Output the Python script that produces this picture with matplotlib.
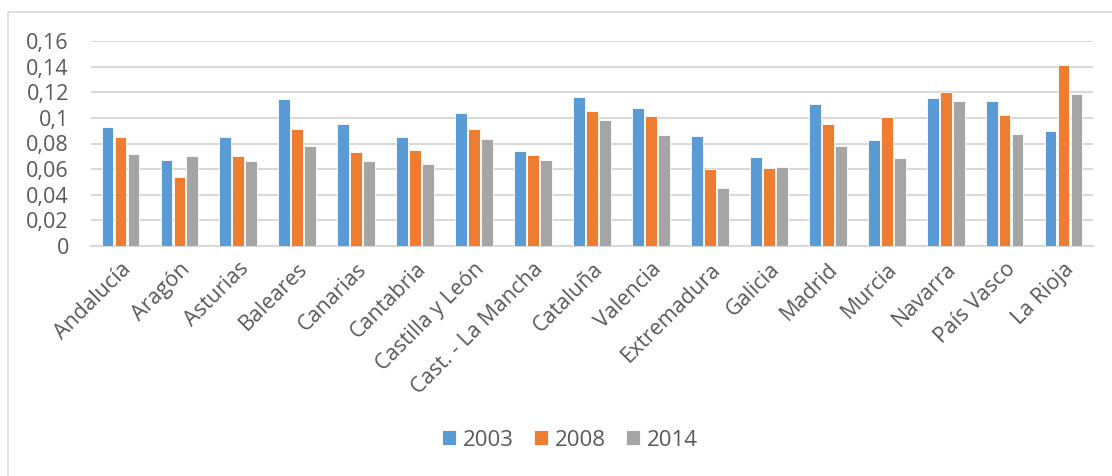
import numpy as np
import matplotlib
matplotlib.use("Agg")
import matplotlib.pyplot as plt
from matplotlib.patches import Rectangle

# data
regions = ["Andalucía", "Aragón", "Asturias", "Baleares", "Canarias", "Cantabria",
           "Castilla y León", "Cast. - La Mancha", "Cataluña", "Valencia", "Extremadura",
           "Galicia", "Madrid", "Murcia", "Navarra", "País Vasco", "La Rioja"]
v2003 = [0.093, 0.067, 0.085, 0.115, 0.095, 0.085, 0.1035, 0.074, 0.116, 0.1075, 0.086,
         0.0697, 0.111, 0.083, 0.1155, 0.113, 0.090]
v2008 = [0.085, 0.054, 0.070, 0.091, 0.073, 0.075, 0.091, 0.071, 0.105, 0.1015, 0.060,
         0.061, 0.095, 0.1007, 0.1205, 0.102, 0.1415]
v2014 = [0.072, 0.070, 0.066, 0.078, 0.066, 0.064, 0.0835, 0.0675, 0.0985, 0.087, 0.045,
         0.0617, 0.078, 0.0687, 0.1135, 0.0875, 0.119]
years = ["2003", "2008", "2014"]
colors = ["#5b9bd5", "#ed7d31", "#a5a5a5"]

plt.rcParams['font.family'] = ['Open Sans', 'DejaVu Sans']
txt = "#595959"
fs = 15.5

fig = plt.figure(figsize=(11.12, 4.76), dpi=100)
ax = fig.add_axes([91/1112, 1-246/476, (1093-91)/1112, 205/476])

# frame around the chart
fig.patches.append(Rectangle((8/1112, -0.1), 1.2, 1-12/476+0.1, transform=fig.transFigure,
                             fill=False, edgecolor="#d9d9d9", linewidth=1.2))

x = np.arange(len(regions))
w = 0.2
for i, (vals, lab, c) in enumerate(zip([v2003, v2008, v2014], years, colors)):
    ax.bar(x + (i-1)*0.22, vals, w, color=c, edgecolor="white", linewidth=0.6, label=lab, zorder=3)

ax.set_xlim(-0.5, len(regions)-0.5)
ax.set_ylim(0, 0.16)
ticks = np.arange(0, 0.161, 0.02)
ax.set_yticks(ticks)
ax.set_yticklabels(["0" if t == 0 else ("%.2f" % t).rstrip("0").replace(".", ",") for t in ticks],
                   fontsize=fs, color=txt)
ax.yaxis.grid(True, color="#d9d9d9", linewidth=1.5, zorder=0)
ax.set_xticks(x)
ax.set_xticklabels(regions, rotation=45, ha="right", rotation_mode="anchor", fontsize=fs, color=txt)
ax.tick_params(length=0, axis="both")
ax.tick_params(axis="y", pad=16)
ax.tick_params(axis="x", pad=9)
for s in ["top", "right", "left"]:
    ax.spines[s].set_visible(False)
ax.spines["bottom"].set_color("#d9d9d9")
ax.spines["bottom"].set_linewidth(1.5)

fig.legend(loc="center", bbox_to_anchor=(570/1112, 1-440/476), ncol=3, frameon=False,
           fontsize=16, labelcolor=txt, handlelength=0.65, handleheight=0.65,
           handletextpad=0.3, columnspacing=0.9)

fig.savefig("out.png", dpi=100)
